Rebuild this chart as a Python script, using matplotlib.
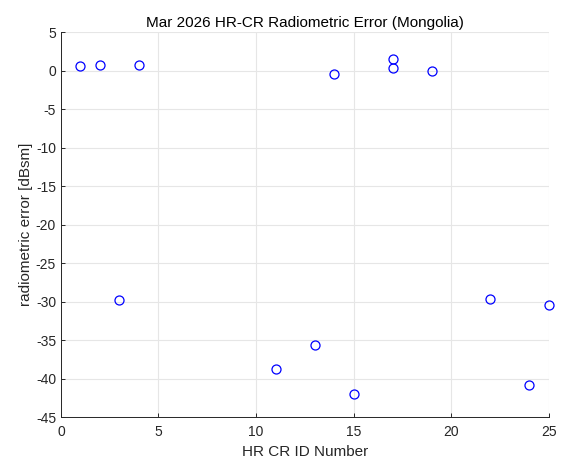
import matplotlib
matplotlib.use('agg')
import matplotlib.pyplot as plt

cr_id = [1, 2, 3, 4, 11, 13, 14, 15, 17, 17, 19, 22, 24, 25]
rad_err = [0.6, 0.7, -29.8, 0.7, -38.8, -35.7, -0.4, -42.0, 1.5, 0.3, 0.0, -29.6, -40.8, -30.4]

x_ticks = [0, 5, 10, 15, 20, 25]
y_ticks = [5, 0, -5, -10, -15, -20, -25, -30, -35, -40, -45]

plt.rcParams['font.family'] = ['Liberation Sans', 'DejaVu Sans']
plt.rcParams['axes.unicode_minus'] = False

fig = plt.figure(figsize=(5.64, 4.65), dpi=100)
ax = fig.add_axes([0.108, 0.103, 0.865, 0.828])

ax.plot(cr_id, rad_err, 'o', markerfacecolor='none', markeredgecolor='#0000ff',
        markersize=6.5, markeredgewidth=0.9, clip_on=False, zorder=5)

ax.set_xlim(0, 25)
ax.set_ylim(-45, 5)
ax.set_xticks(x_ticks)
ax.set_yticks(y_ticks)
ax.grid(True, color='#e6e6e6', linewidth=0.8)
ax.set_axisbelow(True)

for s in ['top', 'right']:
    ax.spines[s].set_visible(False)
for s in ['left', 'bottom']:
    ax.spines[s].set_color('#262626')
    ax.spines[s].set_linewidth(0.7)

ax.tick_params(direction='in', length=3, width=0.7, colors='#262626', labelsize=10)
ax.tick_params(axis='x', pad=6)
ax.set_xlabel('HR CR ID Number', fontsize=11, color='#262626')
ax.set_ylabel('radiometric error [dBsm]', fontsize=11, color='#262626', labelpad=2)
ax.set_title('Mar 2026 HR-CR Radiometric Error (Mongolia)', fontsize=11, pad=4)

fig.savefig('out.png', dpi=100)
